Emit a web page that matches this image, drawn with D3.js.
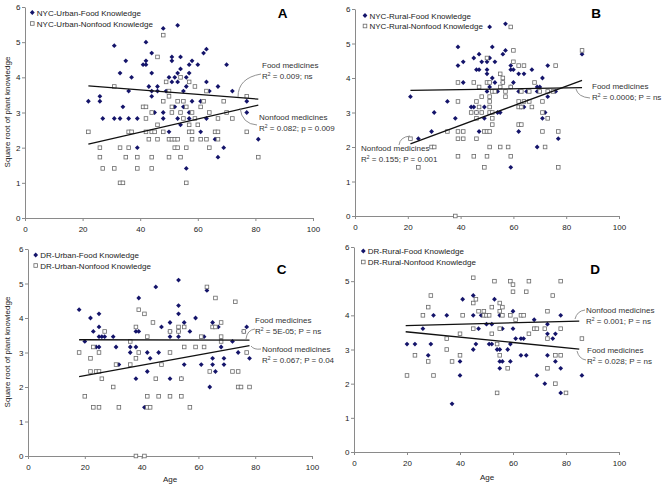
<!DOCTYPE html>
<html><head><meta charset="utf-8">
<script src="https://cdn.jsdelivr.net/npm/d3@7"></script>
<style>body{margin:0;background:#fff}svg text{font-family:"Liberation Sans",Arial,sans-serif}</style>
</head><body><svg id="c" width="662" height="488"></svg>
<script>
const xTicks=[0,20,40,60,80,100];
const yTicks=[0,1,2,3,4,5,6];
const yTitle="Square root of plant knowledge";
const xTitle="Age";

const nycUrbanFood=[[22,3.32],[26,3.46],[26,3.32],[27,2.83],[31,4.90],[31,2.83],[33,2.83],[33,4.12],[34,3.16],[35,4.47],[36,3.61],[36,2.83],[37,4.0],[39,2.83],[39,2.0],[41,4.36],[42,5.0],[42,4.47],[42,4.36],[43,3.74],[44,4.69],[44,4.12],[44,3.61],[44,3.46],[45,3.0],[46,3.74],[46,3.61],[48,5.39],[48,3.0],[48,2.83],[49,3.61],[50,4.0],[50,2.45],[51,4.58],[51,4.47],[51,3.87],[52,4.0],[52,3.16],[53,5.48],[53,4.12],[53,3.87],[53,2.83],[54,4.58],[54,4.24],[54,2.65],[55,3.61],[55,3.16],[56,4.0],[56,3.74],[56,1.41],[57,4.36],[57,4.12],[57,3.0],[57,2.83],[58,4.47],[58,3.32],[60,4.36],[61,3.32],[61,2.45],[62,4.69],[63,4.80],[63,3.87],[63,2.83],[64,3.61],[66,2.24],[67,3.74],[67,1.73],[69,2.0],[70,4.36],[72,3.61],[77,3.32],[77,3.0],[81,2.24]];
const nycUrbanNonfood=[[22,2.45],[26,2.0],[26,1.73],[27,1.41],[31,3.74],[31,1.41],[33,2.0],[33,1.0],[34,1.0],[35,1.73],[36,2.45],[36,2.0],[37,2.45],[39,1.73],[39,1.41],[41,3.16],[42,3.16],[42,2.83],[42,2.45],[43,2.24],[44,3.0],[44,2.45],[45,2.45],[44,1.73],[44,1.41],[46,4.58],[46,2.65],[46,2.24],[48,5.20],[48,3.32],[48,2.45],[49,3.87],[50,3.61],[50,3.46],[50,2.24],[50,1.73],[51,3.16],[51,3.0],[51,2.24],[52,2.24],[52,2.0],[53,3.32],[53,2.24],[53,2.0],[54,4.0],[54,3.0],[54,1.73],[55,3.32],[55,2.83],[56,3.16],[56,2.0],[56,1.0],[57,3.87],[57,2.65],[57,2.45],[58,3.0],[58,2.45],[58,2.24],[59,3.74],[59,2.83],[60,2.65],[61,3.16],[61,2.24],[62,3.32],[63,3.61],[63,2.24],[64,3.0],[64,2.0],[66,2.45],[67,2.83],[67,2.45],[67,2.24],[69,3.32],[70,3.0],[72,2.83],[77,3.46],[77,2.45],[81,1.73]];

const nycRuralFood=[[21,3.46],[24,2.24],[29,2.45],[30,3.0],[35,3.32],[38,2.83],[39,4.90],[39,4.36],[41,4.47],[41,3.87],[44,3.16],[45,4.58],[45,3.16],[46,4.24],[46,3.0],[47,4.69],[47,4.24],[47,2.45],[48,4.47],[49,3.16],[49,2.83],[50,4.47],[50,4.24],[50,4.12],[50,3.61],[51,5.48],[51,4.58],[51,3.74],[52,4.90],[52,4.0],[53,4.47],[53,3.87],[54,3.61],[54,3.0],[55,3.0],[56,4.69],[56,3.87],[57,5.57],[57,4.80],[59,4.36],[59,4.24],[59,3.74],[59,1.41],[60,4.24],[60,3.87],[62,4.12],[62,3.61],[62,2.45],[63,3.16],[64,4.12],[64,3.16],[65,3.61],[67,4.24],[69,3.74],[69,3.61],[69,2.0],[70,3.74],[71,4.0],[71,2.83],[72,3.0],[73,4.36],[73,3.46],[76,3.61],[77,2.24],[86,4.69]];
const nycRuralNonfood=[[21,2.24],[24,1.41],[29,2.0],[30,2.0],[35,2.45],[38,0],[39,3.87],[39,3.32],[39,2.45],[39,2.24],[39,1.73],[41,2.45],[41,2.24],[44,3.0],[45,3.87],[45,1.73],[46,3.32],[46,2.83],[46,2.24],[46,3.0],[47,3.16],[47,3.74],[48,3.46],[48,3.0],[49,2.45],[49,1.41],[50,4.58],[50,3.87],[50,2.45],[50,1.73],[51,3.87],[51,3.46],[51,3.32],[51,3.16],[51,3.0],[51,2.45],[51,2.0],[52,3.61],[52,3.0],[52,2.83],[52,2.65],[53,3.61],[55,4.12],[55,3.74],[55,2.0],[56,4.0],[56,3.87],[57,3.61],[57,3.46],[58,2.0],[59,5.48],[59,3.74],[59,1.73],[60,4.80],[60,4.47],[62,4.36],[62,3.32],[62,3.16],[62,2.65],[63,3.61],[63,3.16],[63,2.65],[64,4.36],[64,3.32],[66,3.61],[66,3.32],[67,3.16],[68,3.87],[70,3.61],[71,3.32],[71,3.0],[71,2.45],[72,2.0],[73,3.61],[73,2.83],[75,3.61],[76,4.36],[77,2.45],[77,1.41],[86,4.80]];

const drUrbanFood=[[18,4.24],[20,3.32],[22,4.0],[23,3.61],[24,3.16],[25,3.16],[25,4.12],[25,3.74],[25,3.46],[26,3.46],[27,3.46],[30,3.46],[31,3.16],[32,2.65],[36,3.16],[36,3.0],[38,3.16],[38,3.61],[39,3.61],[39,4.58],[38,2.24],[41,1.41],[42,3.0],[42,2.45],[43,2.83],[45,4.90],[46,3.0],[47,3.74],[50,3.87],[50,3.46],[50,3.61],[50,2.24],[53,5.10],[53,4.36],[53,4.12],[53,3.61],[53,3.46],[54,2.24],[55,3.87],[55,2.65],[57,3.61],[59,4.0],[61,2.65],[62,3.46],[63,4.80],[64,2.0],[65,3.87],[65,2.83],[65,2.65],[66,2.45],[67,3.74],[68,3.16],[69,2.83],[69,2.65],[72,3.32],[74,3.0],[76,3.61],[77,3.74],[78,2.83]];
const drUrbanNonfood=[[18,3.0],[20,1.73],[22,2.83],[22,2.45],[23,3.16],[23,1.41],[24,2.45],[25,2.45],[25,3.0],[25,1.41],[26,2.24],[27,3.61],[30,2.0],[31,2.65],[32,1.41],[36,3.32],[36,2.65],[38,3.74],[38,2.83],[38,0],[39,4.24],[39,3.0],[41,4.12],[41,0],[42,3.46],[42,1.73],[42,1.41],[43,1.41],[44,3.87],[45,2.24],[46,1.73],[47,2.65],[50,3.61],[50,3.0],[50,1.73],[53,3.74],[53,3.61],[54,2.24],[54,1.73],[55,3.74],[55,3.16],[57,1.41],[59,3.16],[61,3.46],[62,3.16],[63,4.90],[64,2.45],[65,3.74],[66,4.58],[66,3.74],[68,3.87],[68,3.32],[68,3.46],[72,2.45],[73,4.47],[74,2.45],[74,2.0],[75,2.0],[76,3.61],[77,3.0],[78,2.0]];

const drRuralFood=[[20,3.16],[23,3.16],[26,3.61],[28,2.83],[29,3.16],[30,4.0],[35,4.0],[37,1.41],[40,2.65],[40,2.24],[41,4.47],[45,4.58],[45,4.0],[45,3.0],[46,3.16],[47,3.61],[48,4.0],[50,3.74],[51,3.16],[52,3.74],[52,3.16],[53,4.47],[54,3.0],[55,4.0],[55,3.0],[55,2.65],[55,2.45],[56,3.61],[56,2.65],[58,3.0],[59,3.16],[59,2.65],[60,4.12],[60,3.61],[61,3.32],[63,3.32],[63,2.83],[64,3.32],[65,2.83],[68,3.87],[69,2.24],[72,2.0],[73,3.74],[73,3.46],[73,2.83],[75,3.32],[76,3.46],[76,2.65],[78,4.0],[78,2.45],[78,1.73],[86,2.24]];
const drRuralNonfood=[[20,2.24],[23,2.83],[26,4.0],[28,4.24],[28,2.65],[29,4.58],[30,2.24],[35,3.32],[35,3.0],[37,2.65],[40,3.46],[40,2.83],[41,4.0],[45,5.10],[45,4.36],[45,3.61],[46,4.47],[47,4.12],[49,4.12],[49,4.0],[50,4.0],[51,4.0],[52,4.24],[52,3.46],[53,5.0],[54,3.16],[54,1.73],[55,4.36],[55,4.12],[55,3.61],[55,2.83],[56,4.24],[56,4.0],[58,2.45],[59,5.0],[59,4.0],[60,4.90],[60,4.69],[61,3.87],[63,4.0],[64,4.0],[65,4.69],[66,5.0],[66,3.46],[68,3.61],[69,3.61],[72,3.61],[73,4.12],[73,3.32],[73,2.45],[75,4.58],[76,2.83],[76,2.0],[78,5.0],[78,3.61],[78,2.83],[80,1.73],[86,3.32]];

const trendAFood=[[22,3.76],[81,3.38]];
const trendANonfood=[[22,2.10],[81,3.21]];
const trendBFood=[[21,3.64],[86,3.72]];
const trendBNonfood=[[21,2.09],[86,3.93]];
const trendCFood=[[18,3.37],[78,3.36]];
const trendCNonfood=[[18,2.30],[78,3.20]];
const trendDFood=[[19.5,3.52],[85,3.01]];
const trendDNonfood=[[19.5,3.70],[85,3.83]];

const svg=d3.select("#c");
const FONT='"Liberation Sans",Arial,sans-serif';
const NAVY="#14146a";

function panel(c){
  const x=d3.scaleLinear().domain([0,100]).range([c.x0,c.x1]);
  const y=d3.scaleLinear().domain([0,6]).range([c.y0,c.y1]);
  const g=svg.append("g");
  const xa=g.append("g").attr("transform",`translate(0,${c.y0})`)
    .call(d3.axisBottom(x).tickValues(xTicks).tickFormat(d3.format("d")).tickSize(3).tickSizeOuter(0).tickPadding(5));
  const ya=g.append("g").attr("transform",`translate(${c.x0},0)`)
    .call(d3.axisLeft(y).tickValues(yTicks).tickFormat(d3.format("d")).tickSize(3).tickSizeOuter(0).tickPadding(1.5));
  [xa,ya].forEach(a=>{
    a.select(".domain").attr("stroke","#8a8a8a");
    a.selectAll(".tick line").attr("stroke","#8a8a8a");
    a.selectAll("text").attr("font-size",8).attr("fill","#222").attr("font-family",FONT);
  });
  const dia="M0,-2.4L2.4,0L0,2.4L-2.4,0Z";
  g.append("g").selectAll("path").data(c.food).join("path")
    .attr("d",dia).attr("fill",NAVY)
    .attr("transform",d=>`translate(${x(d[0])},${y(d[1])})`);
  g.append("g").selectAll("rect").data(c.nonfood).join("rect")
    .attr("x",d=>x(d[0])-1.8).attr("y",d=>y(d[1])-1.8).attr("width",3.6).attr("height",3.6)
    .attr("fill","#fff").attr("stroke","#6a6a6a").attr("stroke-width",0.8);
  const line=d3.line().x(d=>x(d[0])).y(d=>y(d[1]));
  [c.tf,c.tn].forEach(t=>g.append("path").attr("d",line(t)).attr("fill","none").attr("stroke","#111").attr("stroke-width",1.3));
  const lg=g.append("g").attr("font-size",8).attr("fill","#222");
  lg.append("path").attr("d",dia).attr("fill",NAVY).attr("transform",`translate(${c.lx},${c.ly1-3})`);
  lg.append("rect").attr("x",c.lx-1.8).attr("y",c.ly2-4.8).attr("width",3.6).attr("height",3.6).attr("fill","#fff").attr("stroke","#6a6a6a").attr("stroke-width",0.8);
  lg.append("text").attr("x",c.lx+4.5).attr("y",c.ly1).text(c.leg1);
  lg.append("text").attr("x",c.lx+4.5).attr("y",c.ly2).text(c.leg2);
  g.append("text").attr("x",c.letX).attr("y",c.letY).attr("text-anchor","middle")
    .attr("font-family","Lato, 'Open Sans', sans-serif").attr("font-weight","bold").attr("font-size",13.5).attr("fill","#000").text(c.letter);
  c.notes.forEach(n=>{
    g.append("text").attr("x",n.x).attr("y",n.y).attr("font-size",8).attr("fill","#333").text(n.t1);
    const t=g.append("text").attr("x",n.x).attr("y",n.y+11).attr("font-size",8).attr("fill","#333");
    t.append("tspan").text("R");
    t.append("tspan").attr("font-size",5).attr("dy",-3).text("2");
    t.append("tspan").attr("dy",3).text(" = "+n.t2);
    g.append("path").attr("d",n.path).attr("fill","none").attr("stroke","#777").attr("stroke-width",0.8);
  });
  return {x,y};
}

panel({x0:25,x1:313,y0:218,y1:7,food:nycUrbanFood,nonfood:nycUrbanNonfood,tf:trendAFood,tn:trendANonfood,
  lx:32.3,ly1:15.5,ly2:26.5,leg1:"NYC-Urban-Food Knowledge",leg2:"NYC-Urban-Nonfood Knowledge",letter:"A",letX:282.5,letY:17.5,
  notes:[{x:262,y:68,t1:"Food medicines",t2:"0.009; ns",path:"M261,74 Q238,78 238,97"},
         {x:259,y:120,t1:"Nonfood medicines",t2:"0.082; p = 0.009",path:"M240,108 Q242,124 257,125"}]});
panel({x0:355,x1:619,y0:216,y1:9,food:nycRuralFood,nonfood:nycRuralNonfood,tf:trendBFood,tn:trendBNonfood,
  lx:365,ly1:18.5,ly2:29,leg1:"NYC-Rural-Food Knowledge",leg2:"NYC-Rural-Nonfood Knowledge",letter:"B",letX:596,letY:17.5,
  notes:[{x:592,y:89,t1:"Food medicines",t2:"0.0006; P = ns",path:"M576,89 Q578,97 590,98"},
         {x:361,y:151,t1:"Nonfood medicines",t2:"0.155; P = 0.001",path:"M399,145 Q400,137 410,136"}]});
panel({x0:28,x1:312,y0:456,y1:249,food:drUrbanFood,nonfood:drUrbanNonfood,tf:trendCFood,tn:trendCNonfood,
  lx:35.7,ly1:258,ly2:268.5,leg1:"DR-Urban-Food Knowledge",leg2:"DR-Urban-Nonfood Knowledge",letter:"C",letX:281.5,letY:273.5,
  notes:[{x:255,y:323,t1:"Food medicines",t2:"5E-05; P = ns",path:"M246,339 Q247,330 255,329"},
         {x:262,y:352,t1:"Nonfood medicines",t2:"0.067; P = 0.04",path:"M251,346 Q254,350 261,349"}]});
panel({x0:354,x1:619,y0:452,y1:247,food:drRuralFood,nonfood:drRuralNonfood,tf:trendDFood,tn:trendDNonfood,
  lx:363.3,ly1:254,ly2:265,leg1:"DR-Rural-Food Knowledge",leg2:"DR-Rural-Nonfood Knowledge",letter:"D",letX:595,letY:273.5,
  notes:[{x:586,y:313,t1:"Nonfood medicines",t2:"0.001; P = ns",path:"M575,319 Q577,311 585,310"},
         {x:587,y:353,t1:"Food medicines",t2:"0.028; P = ns",path:"M577,351 Q579,359 586,360"}]});

[[112],[352]].forEach(([cy])=>{
  svg.append("text").attr("transform",`translate(10,${cy}) rotate(-90)`).attr("text-anchor","middle")
    .attr("font-size",8).attr("fill","#222").text(yTitle);
});
svg.append("text").attr("x",170).attr("y",482).attr("text-anchor","middle").attr("font-size",8).attr("fill","#222").text(xTitle);
svg.append("text").attr("x",487).attr("y",480).attr("text-anchor","middle").attr("font-size",8).attr("fill","#222").text(xTitle);
</script></body></html>
